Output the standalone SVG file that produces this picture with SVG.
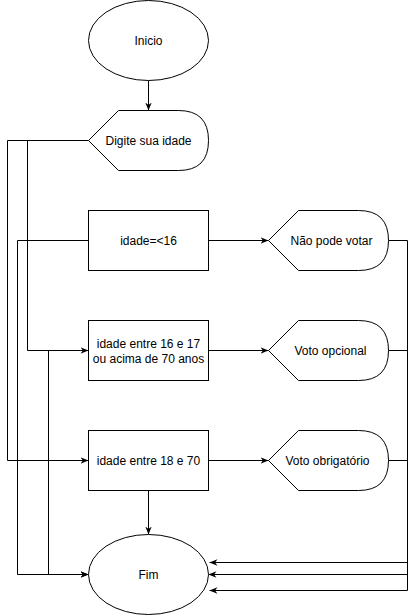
<svg xmlns="http://www.w3.org/2000/svg" width="416" height="615" viewBox="0 0 416 615">
<style>
.s{fill:#fff;stroke:#000;stroke-width:1}
.c{fill:none;stroke:#000;stroke-width:1}
text{font-family:"Liberation Sans",Arial,sans-serif;font-size:12px;fill:#000;text-anchor:middle;dominant-baseline:central}
</style>
<defs>
<marker id="a" viewBox="0 0 10 10" refX="10" refY="5" markerWidth="8" markerHeight="8" markerUnits="userSpaceOnUse" orient="auto">
<path d="M0,1 L10,5 L0,9 L3,5 Z" fill="#000"/>
</marker>
</defs>
<rect width="416" height="615" fill="#fff"/>
<g transform="translate(0.5,0.5)">
<g id="connectors">
<path class="c" d="M148,80 V110" marker-end="url(#a)"/>
<path class="c" d="M88,140 H27 V350 H88" marker-end="url(#a)"/>
<path class="c" d="M88,140 H7 V460 H88" marker-end="url(#a)"/>
<path class="c" d="M208,240 H268" marker-end="url(#a)"/>
<path class="c" d="M208,350 H268" marker-end="url(#a)"/>
<path class="c" d="M208,460 H268" marker-end="url(#a)"/>
<path class="c" d="M88,240 H17 V574 H88" marker-end="url(#a)"/>
<path class="c" d="M88,350 H48 V574 H88" marker-end="url(#a)"/>
<path class="c" d="M148,490 V534" marker-end="url(#a)"/>
<path class="c" d="M388,240 H407 V562 H209" marker-end="url(#a)"/>
<path class="c" d="M388,350 H407 V574 H208" marker-end="url(#a)"/>
<path class="c" d="M388,460 H407 V590 H209" marker-end="url(#a)"/>
</g>
<g id="inicio"><ellipse class="s" cx="148" cy="40" rx="60" ry="40"/><text x="148" y="40">Inicio</text></g>
<g id="digite"><path class="s" d="M88,140 L118,110 L178,110 Q208,110 208,140 Q208,170 178,170 L118,170 Z"/><text x="148" y="140">Digite sua idade</text></g>
<g id="r1"><rect class="s" x="88" y="210" width="120" height="60"/><text x="148" y="240">idade=&lt;16</text></g>
<g id="d1"><path class="s" d="M268,240 L298,210 L358,210 Q388,210 388,240 Q388,270 358,270 L298,270 Z"/><text x="331" y="240">Não pode votar</text></g>
<g id="r2"><rect class="s" x="88" y="320" width="120" height="60"/><text x="148" y="343">idade entre 16 e 17</text><text x="148" y="358">ou acima de 70 anos</text></g>
<g id="d2"><path class="s" d="M268,350 L298,320 L358,320 Q388,320 388,350 Q388,380 358,380 L298,380 Z"/><text x="330" y="350">Voto opcional</text></g>
<g id="r3"><rect class="s" x="88" y="430" width="120" height="60"/><text x="148" y="460">idade entre 18 e 70</text></g>
<g id="d3"><path class="s" d="M268,460 L298,430 L358,430 Q388,430 388,460 Q388,490 358,490 L298,490 Z"/><text x="327" y="460">Voto obrigatório</text></g>
<g id="fim"><ellipse class="s" cx="148" cy="574" rx="60" ry="40"/><text x="148" y="574">Fim</text></g>
</g>
</svg>
